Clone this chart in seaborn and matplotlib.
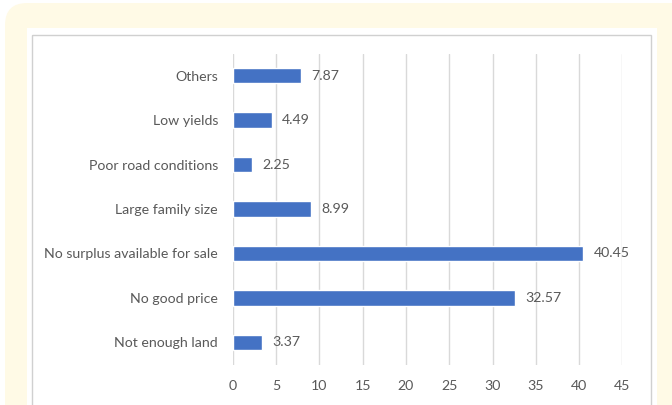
import matplotlib
matplotlib.use("Agg")
import matplotlib.pyplot as plt
from matplotlib.patches import FancyBboxPatch, Rectangle
import seaborn as sns
import pandas as pd

# Reasons for not selling produce (%)
reasons = [
    "Others",
    "Low yields",
    "Poor road conditions",
    "Large family size",
    "No surplus available for sale",
    "No good price",
    "Not enough land",
]
shares = [7.87, 4.49, 2.25, 8.99, 40.45, 32.57, 3.37]
x_ticks = [0, 5, 10, 15, 20, 25, 30, 35, 40, 45]

df = pd.DataFrame({"reason": reasons, "share": shares})

sns.set_theme(style="white")
plt.rcParams["font.family"] = ["Lato", "DejaVu Sans"]

TEXT = "#595959"
BAR = "#4472C4"
GRID = "#D9D9D9"
CREAM = "#FFFAE6"
FS = 10.2

W, H = 672, 405
fig = plt.figure(figsize=(W / 100, H / 100), dpi=100, facecolor="white")

# backdrop in pixel units: cream card, white panel, thin chart frame
bg = fig.add_axes([0, 0, 1, 1], zorder=-5)
bg.set_xlim(0, W)
bg.set_ylim(H, 0)
bg.axis("off")
bg.add_patch(FancyBboxPatch((5, 3), 700, 460,
                            boxstyle="round,pad=0,rounding_size=22",
                            facecolor=CREAM, edgecolor="none"))
bg.add_patch(Rectangle((27, 28), 657 - 27, 420, facecolor="white",
                       edgecolor="none"))
bg.add_patch(Rectangle((31.5, 34.5), 651 - 31.5, 420, facecolor="none",
                       edgecolor="#D0D0D0", linewidth=1.0))

ax = fig.add_axes([232.7 / W, 1 - 364.5 / H, (622.4 - 232.7) / W,
                   (364.5 - 53.5) / H])
ax.set_facecolor("none")

sns.barplot(data=df, y="reason", x="share", orient="h", color=BAR,
            width=0.35, saturation=1, ax=ax, zorder=3)

ax.set_xlim(0, 45)
ax.set_xticks(x_ticks)
ax.set_xticklabels([str(t) for t in x_ticks])
ax.grid(axis="x", color=GRID, linewidth=1.0, zorder=0)
ax.set_axisbelow(True)
for s in ax.spines.values():
    s.set_visible(False)
ax.set_xlabel("")
ax.set_ylabel("")
ax.tick_params(axis="both", length=0, colors=TEXT, labelsize=FS)
ax.tick_params(axis="y", pad=10.5)
ax.tick_params(axis="x", pad=11)

for container in ax.containers:
    ax.bar_label(container, labels=[f"{v:.2f}" for v in shares],
                 padding=7.5, color=TEXT, fontsize=FS)

fig.savefig("out.png", dpi=100, facecolor="white")
